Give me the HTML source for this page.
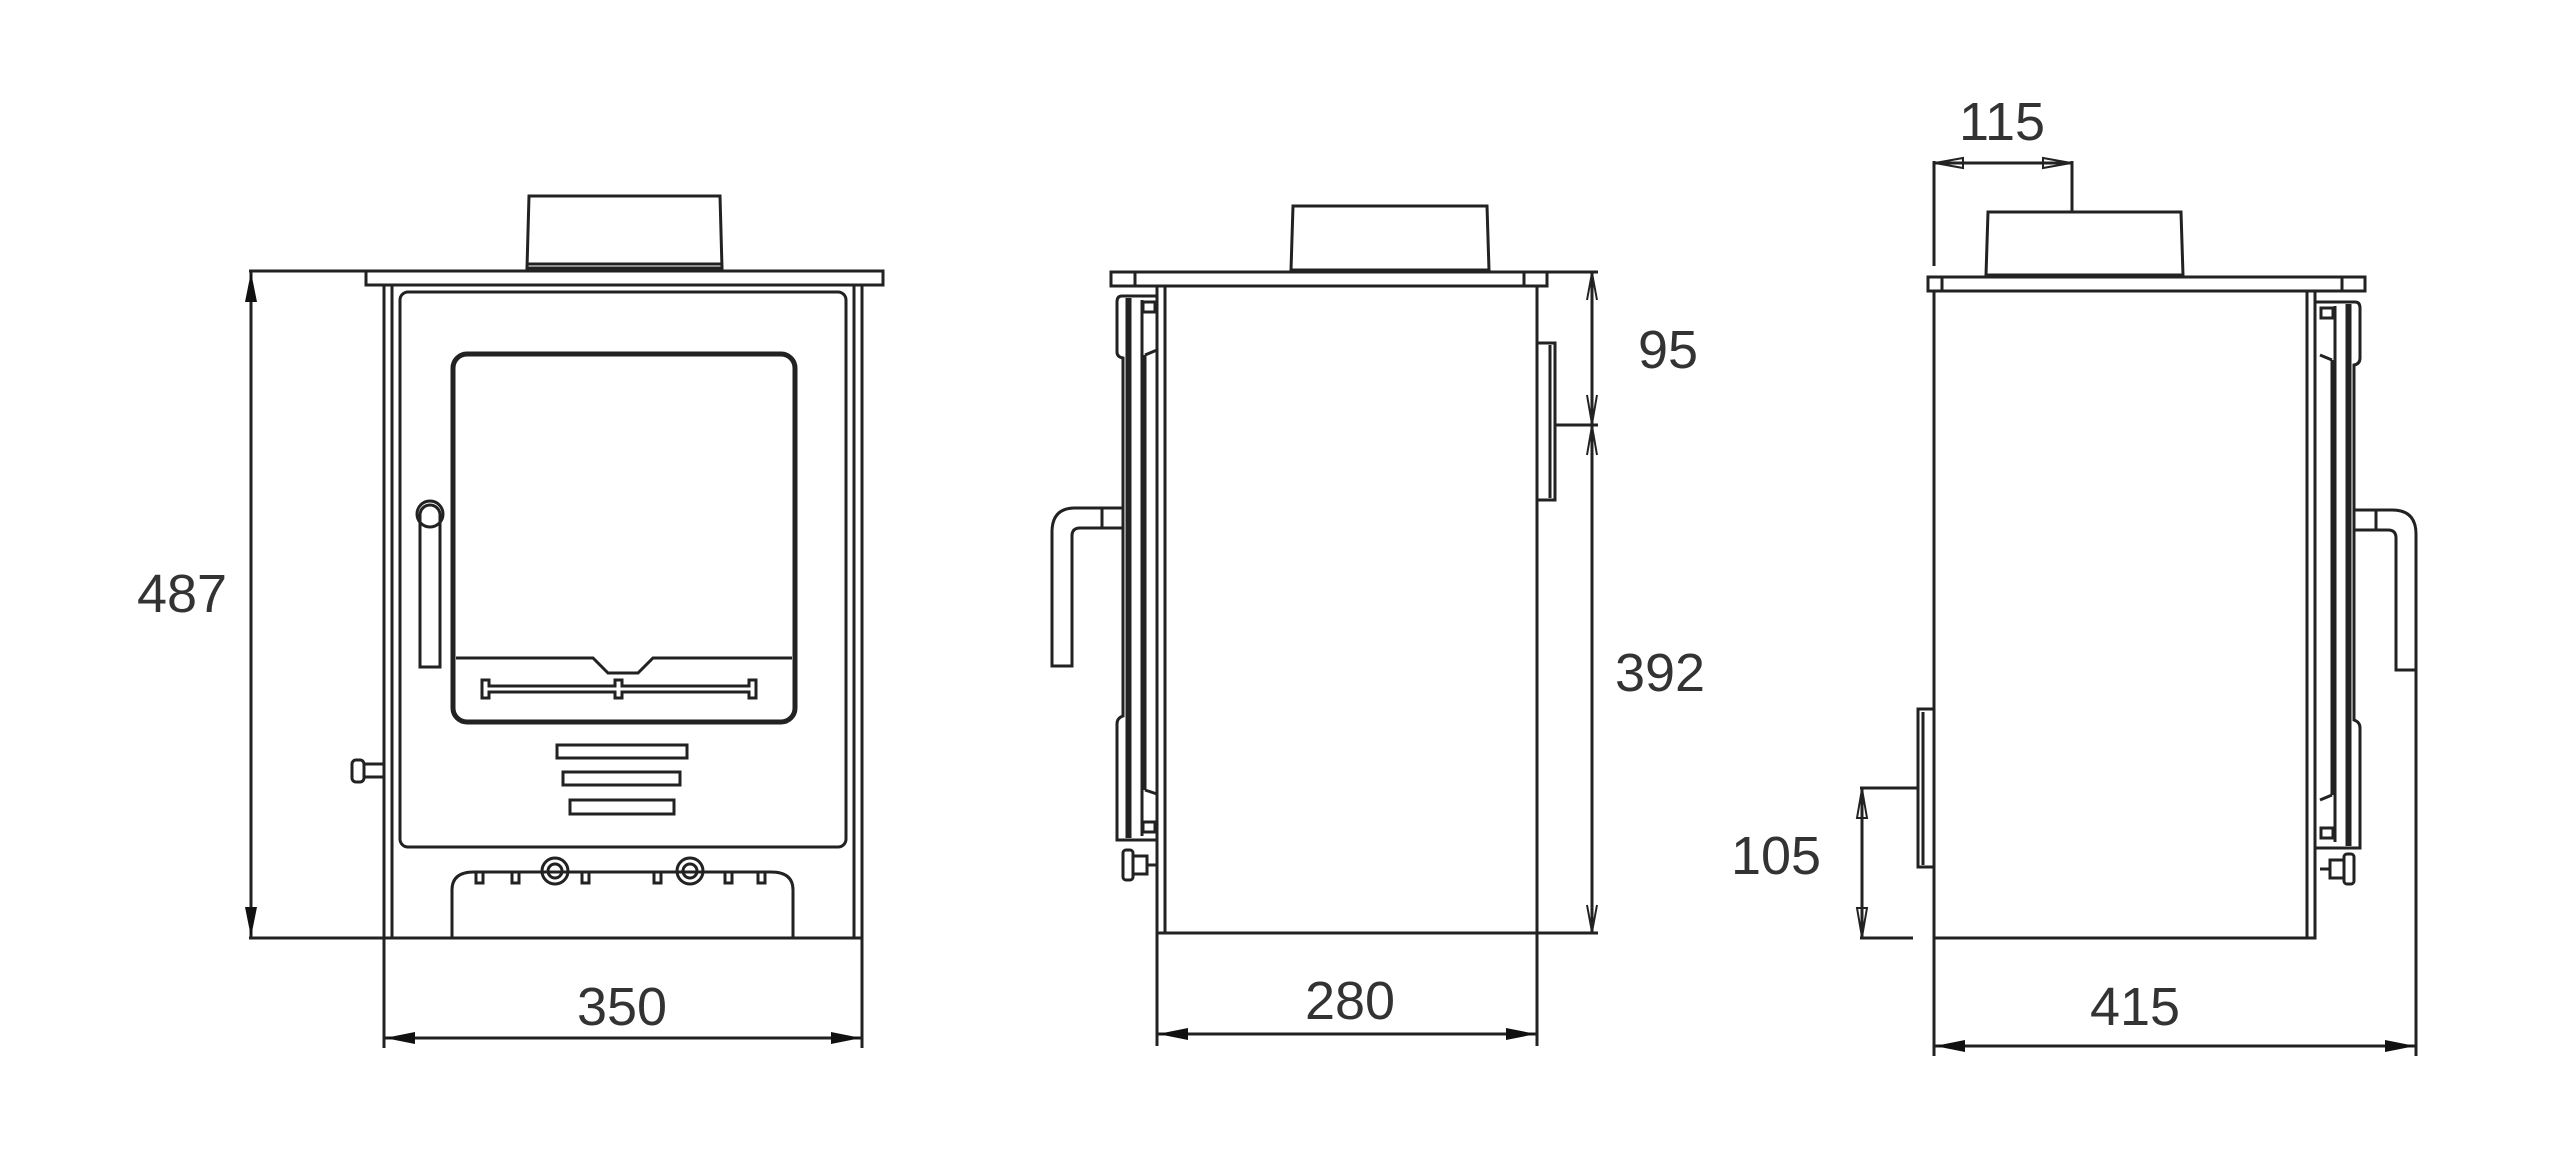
<!DOCTYPE html>
<html><head><meta charset="utf-8"><style>
html,body{margin:0;padding:0;background:#fff;}
svg{display:block;}
text{font-family:"Liberation Sans",sans-serif;font-size:54px;fill:#333;}
</style></head><body>
<svg width="2560" height="1154" viewBox="0 0 2560 1154" xmlns="http://www.w3.org/2000/svg">
<defs>
<marker id="a" viewBox="0 0 30 12" refX="30" refY="6" markerWidth="30" markerHeight="12" markerUnits="userSpaceOnUse" orient="auto-start-reverse"><path d="M0,0 L30,6 L0,12 z" fill="#111"/></marker>
</defs>
<g fill="none" stroke="#222" stroke-width="3">
<path d="M527,268 L529,196 L720,196 L722,268 Z"/>
<line x1="527" y1="264" x2="722" y2="264"/>
<rect x="366" y="271" width="517" height="14"/>
<rect x="384" y="285" width="478" height="653"/>
<line x1="392" y1="285" x2="392" y2="938"/>
<line x1="854" y1="285" x2="854" y2="938"/>
<rect x="400" y="292" width="446" height="555" rx="8"/>
<rect x="453" y="354" width="342" height="368" rx="14" stroke-width="5"/>
<path d="M456,658 L593,658 L608,673 L638,673 L653,658 L792,658"/>
<path d="M482,680 h7 v6 h126 v-6 h7 v6 h127 v-6 h7 v18 h-7 v-6 h-127 v6 h-7 v-6 h-126 v6 h-7 z"/>
<path d="M420,667 L420,515 A10,10 0 0 1 440,515 L440,667 Z"/>
<circle cx="430" cy="514" r="13"/>
<rect x="557" y="745" width="130" height="13"/>
<rect x="563" y="772" width="117" height="13"/>
<rect x="570" y="800" width="104" height="14"/>
<path d="M452,938 L452,890 Q452,872 474,872 L771,872 Q793,872 793,890 L793,938"/>
<circle cx="555" cy="871" r="13"/><circle cx="555" cy="871" r="7"/>
<circle cx="690" cy="871" r="13"/><circle cx="690" cy="871" r="7"/>
<rect x="476" y="872" width="7" height="11"/><rect x="512" y="872" width="7" height="11"/>
<rect x="582" y="872" width="7" height="11"/><rect x="654" y="872" width="7" height="11"/>
<rect x="725" y="872" width="7" height="11"/><rect x="758" y="872" width="7" height="11"/>
<rect x="352" y="760" width="12" height="22" rx="4"/>
<rect x="364" y="764" width="20" height="13"/>
<line x1="249" y1="271" x2="366" y2="271"/>
<line x1="249" y1="938" x2="384" y2="938"/>
<line x1="251" y1="272" x2="251" y2="937" marker-start="url(#a)" marker-end="url(#a)"/>
<line x1="384" y1="938" x2="384" y2="1048"/>
<line x1="862" y1="938" x2="862" y2="1048"/>
<line x1="385" y1="1038" x2="861" y2="1038" marker-start="url(#a)" marker-end="url(#a)"/>

<path d="M1291,270 L1293,206 L1487,206 L1489,270 Z"/>
<rect x="1111" y="272" width="436" height="14"/>
<line x1="1135" y1="272" x2="1135" y2="286"/><line x1="1524" y1="272" x2="1524" y2="286"/>
<rect x="1157" y="286" width="380" height="647"/>
<line x1="1165" y1="286" x2="1165" y2="933"/>
<path d="M1157,296 L1122,296 Q1117,296 1117,302 L1117,352 Q1117,357 1123,358 L1123,716 Q1117,718 1117,724 L1117,840 L1157,840"/>
<line x1="1127" y1="298" x2="1127" y2="838"/>
<line x1="1130" y1="298" x2="1130" y2="838"/>
<line x1="1142" y1="300" x2="1142" y2="836"/>
<line x1="1145" y1="355" x2="1145" y2="790"/>
<line x1="1145" y1="355" x2="1157" y2="350"/><line x1="1145" y1="790" x2="1157" y2="794"/>
<rect x="1143" y="302" width="12" height="10"/><rect x="1143" y="822" width="12" height="10"/>
<path d="M1122,508 L1075,508 Q1052,508 1052,532 L1052,666 L1072,666 L1072,536 Q1072,528 1080,528 L1122,528"/>
<line x1="1102" y1="508" x2="1102" y2="528"/>
<rect x="1123" y="850" width="10" height="30" rx="3"/>
<rect x="1133" y="856" width="14" height="18"/>
<line x1="1147" y1="865" x2="1157" y2="865"/>
<path d="M1537,343 L1555,343 L1555,500 L1537,500"/>
<line x1="1550" y1="345" x2="1550" y2="498"/>
<line x1="1547" y1="272" x2="1598" y2="272"/>
<line x1="1537" y1="933" x2="1598" y2="933"/>
<line x1="1555" y1="425" x2="1598" y2="425"/>
<line x1="1592" y1="273" x2="1592" y2="932"/>
<path d="M1587,300 L1592,273 L1597,300 M1587,395 L1592,424 L1597,395 M1587,455 L1592,426 L1597,455 M1587,905 L1592,932 L1597,905" stroke-width="2"/>
<line x1="1157" y1="933" x2="1157" y2="1046"/>
<line x1="1537" y1="933" x2="1537" y2="1046"/>
<line x1="1158" y1="1034" x2="1536" y2="1034" marker-start="url(#a)" marker-end="url(#a)"/>

<path d="M1986,275 L1988,212 L2181,212 L2183,275 Z"/>
<rect x="1928" y="277" width="437" height="14"/>
<line x1="1942" y1="277" x2="1942" y2="291"/><line x1="2342" y1="277" x2="2342" y2="291"/>
<rect x="1934" y="291" width="381" height="647"/>
<line x1="2307" y1="291" x2="2307" y2="938"/>
<path d="M2315,302 L2355,302 Q2360,302 2360,308 L2360,358 Q2360,364 2354,365 L2354,720 Q2360,722 2360,728 L2360,848 L2315,848"/>
<line x1="2350" y1="304" x2="2350" y2="846"/>
<line x1="2347" y1="304" x2="2347" y2="846"/>
<line x1="2335" y1="306" x2="2335" y2="842"/>
<line x1="2332" y1="360" x2="2332" y2="795"/>
<line x1="2332" y1="360" x2="2320" y2="355"/><line x1="2332" y1="795" x2="2320" y2="800"/>
<rect x="2321" y="308" width="12" height="10"/><rect x="2321" y="828" width="12" height="10"/>
<path d="M2354,510 L2392,510 Q2416,510 2416,534 L2416,670 L2396,670 L2396,538 Q2396,530 2388,530 L2354,530"/>
<line x1="2376" y1="510" x2="2376" y2="530"/>
<rect x="2344" y="854" width="10" height="30" rx="3"/>
<rect x="2330" y="860" width="14" height="18"/>
<line x1="2320" y1="869" x2="2330" y2="869"/>
<path d="M1934,709 L1918,709 L1918,867 L1934,867"/>
<line x1="1923" y1="712" x2="1923" y2="865"/>
<line x1="1934" y1="161" x2="1934" y2="266"/>
<line x1="2072" y1="161" x2="2072" y2="212"/>
<line x1="1935" y1="163" x2="2071" y2="163"/>
<path d="M1935,163 L1963,158 L1963,168 Z M2071,163 L2043,158 L2043,168 Z" stroke-width="2"/>
<line x1="1860" y1="788" x2="1918" y2="788"/>
<line x1="1860" y1="938" x2="1913" y2="938"/>
<line x1="1862" y1="789" x2="1862" y2="937"/>
<path d="M1862,789 L1857,818 L1867,818 Z M1862,937 L1857,908 L1867,908 Z" stroke-width="2"/>
<line x1="1934" y1="938" x2="1934" y2="1056"/>
<line x1="2416" y1="670" x2="2416" y2="1056"/>
<line x1="1935" y1="1046" x2="2415" y2="1046" marker-start="url(#a)" marker-end="url(#a)"/>
</g>
<text x="182" y="612" text-anchor="middle">487</text>
<text x="622" y="1025" text-anchor="middle">350</text>
<text x="1350" y="1019" text-anchor="middle">280</text>
<text x="1668" y="368" text-anchor="middle">95</text>
<text x="1660" y="691" text-anchor="middle">392</text>
<text x="2002" y="140" text-anchor="middle">115</text>
<text x="1776" y="874" text-anchor="middle">105</text>
<text x="2135" y="1025" text-anchor="middle">415</text>
</svg>
</body></html>
